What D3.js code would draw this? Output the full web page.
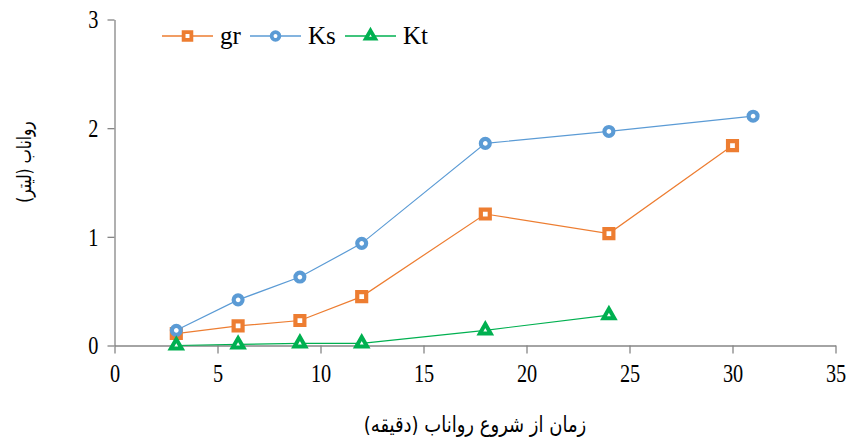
<!DOCTYPE html>
<html>
<head>
<meta charset="utf-8">
<script src="https://cdn.jsdelivr.net/npm/d3@7"></script>
<style>
  body { margin: 0; background: #fff; }
  svg { display: block; }
  .serif { font-family: "Liberation Serif", "Times New Roman", "DejaVu Serif", serif; }
</style>
</head>
<body>
<div id="chart"></div>
<script>
// data
const seriesNames = ["gr", "Ks", "Kt"];
const grX = [3, 6, 9, 12, 18, 24, 30];
const grY = [0.11, 0.18, 0.23, 0.45, 1.21, 1.03, 1.84];
const ksX = [3, 6, 9, 12, 18, 24, 31];
const ksY = [0.14, 0.42, 0.63, 0.94, 1.86, 1.97, 2.11];
const ktX = [3, 6, 9, 12, 18, 24];
const ktY = [0.0, 0.01, 0.02, 0.02, 0.14, 0.28];
const xTicks = [0, 5, 10, 15, 20, 25, 30, 35];
const yTicks = [0, 1, 2, 3];
const xTitle = "زمان از شروع رواناب (دقیقه)";
const yTitle = "رواناب (لیتر)";

const WIDTH = 848, HEIGHT = 443;
const colors = { gr: "#ED7D31", Ks: "#5B9BD5", Kt: "#00B050" };
const shapes = { gr: d3.symbolSquare, Ks: d3.symbolCircle, Kt: d3.symbolTriangle };

const svg = d3.select("#chart").append("svg")
  .attr("width", WIDTH).attr("height", HEIGHT);

const x = d3.scaleLinear().domain([0, 35]).range([114.5, 835.5]);
const y = d3.scaleLinear().domain([0, 3]).range([345.5, 19.5]);

const axisColor = "#868686";
const squeeze = 0.78; // tick digits in the picture are narrow and tall

// x axis
const xAxis = svg.append("g")
  .attr("transform", `translate(0,${y(0)})`)
  .call(d3.axisBottom(x).tickValues(xTicks).tickFormat(d3.format("d"))
    .tickSize(8).tickSizeOuter(0).tickPadding(11));
// y axis
const yAxis = svg.append("g")
  .attr("transform", `translate(${x(0)},0)`)
  .call(d3.axisLeft(y).tickValues(yTicks).tickFormat(d3.format("d"))
    .tickSize(7).tickSizeOuter(0).tickPadding(14));

[xAxis, yAxis].forEach(g => {
  g.attr("font-family", null);
  g.select(".domain").attr("stroke", axisColor).attr("stroke-width", 1.3);
  g.selectAll(".tick line").attr("stroke", axisColor).attr("stroke-width", 1.3);
  g.selectAll(".tick text")
    .attr("class", "serif")
    .attr("fill", "#000")
    .style("font-family", "\"Liberation Serif\", serif")
    .style("font-weight", "normal")
    .style("font-size", "26px");
});
xAxis.selectAll(".tick text").attr("dy", "0.69em")
  .attr("transform", `scale(${squeeze},1)`);
yAxis.selectAll(".tick text").attr("dy", "0.32em")
  .attr("x", -16 / squeeze)
  .attr("transform", `scale(${squeeze},1)`);

// series
const series = [
  { name: "gr", xs: grX, ys: grY },
  { name: "Ks", xs: ksX, ys: ksY },
  { name: "Kt", xs: ktX, ys: ktY }
];

const line = d3.line().x(d => x(d[0])).y(d => y(d[1]));
const symbolSize = { gr: 80, Ks: 62, Kt: 50 };
const symbolStroke = { gr: 4.2, Ks: 4.2, Kt: 4 };

series.forEach(s => {
  const pts = s.xs.map((v, i) => [v, s.ys[i]]);
  svg.append("path")
    .datum(pts)
    .attr("fill", "none")
    .attr("stroke", colors[s.name])
    .attr("stroke-width", 1.2)
    .attr("d", line);
  svg.selectAll(".m-" + s.name)
    .data(pts)
    .enter()
    .append("path")
    .attr("class", "m-" + s.name)
    .attr("transform", d => `translate(${x(d[0])},${y(d[1])})`)
    .attr("d", d3.symbol().type(shapes[s.name]).size(symbolSize[s.name]))
    .attr("fill", "#fff")
    .attr("stroke", colors[s.name])
    .attr("stroke-width", symbolStroke[s.name]);
});

// legend
const legendX = [162, 250, 345];
const legend = svg.append("g");
seriesNames.forEach((n, i) => {
  const g = legend.append("g").attr("transform", `translate(${legendX[i]},36)`);
  g.append("line").attr("x1", 0).attr("x2", 51).attr("y1", 0).attr("y2", 0)
    .attr("stroke", colors[n]).attr("stroke-width", 1.5);
  g.append("path")
    .attr("transform", "translate(25.5,0)")
    .attr("d", d3.symbol().type(shapes[n]).size(symbolSize[n] * 0.75))
    .attr("fill", "#fff").attr("stroke", colors[n]).attr("stroke-width", 3.8);
  g.append("text")
    .attr("class", "serif")
    .attr("x", 58).attr("y", 8)
    .style("font-size", "25px")
    .text(n);
});

// titles
svg.append("text")
  .attr("transform", `translate(${(x(0) + x(35)) / 2},432) scale(0.9,1.1)`)
  .attr("text-anchor", "middle")
  .attr("direction", "rtl")
  .style("font-family", "'DejaVu Sans', sans-serif")
  .style("font-size", "20px")
  .text(xTitle);

svg.append("text")
  .attr("transform", "translate(31,162) rotate(-90) scale(0.85,1.1)")
  .attr("text-anchor", "middle")
  .attr("direction", "rtl")
  .style("font-family", "'DejaVu Sans', sans-serif")
  .style("font-size", "18px")
  .text(yTitle);
</script>
</body>
</html>
